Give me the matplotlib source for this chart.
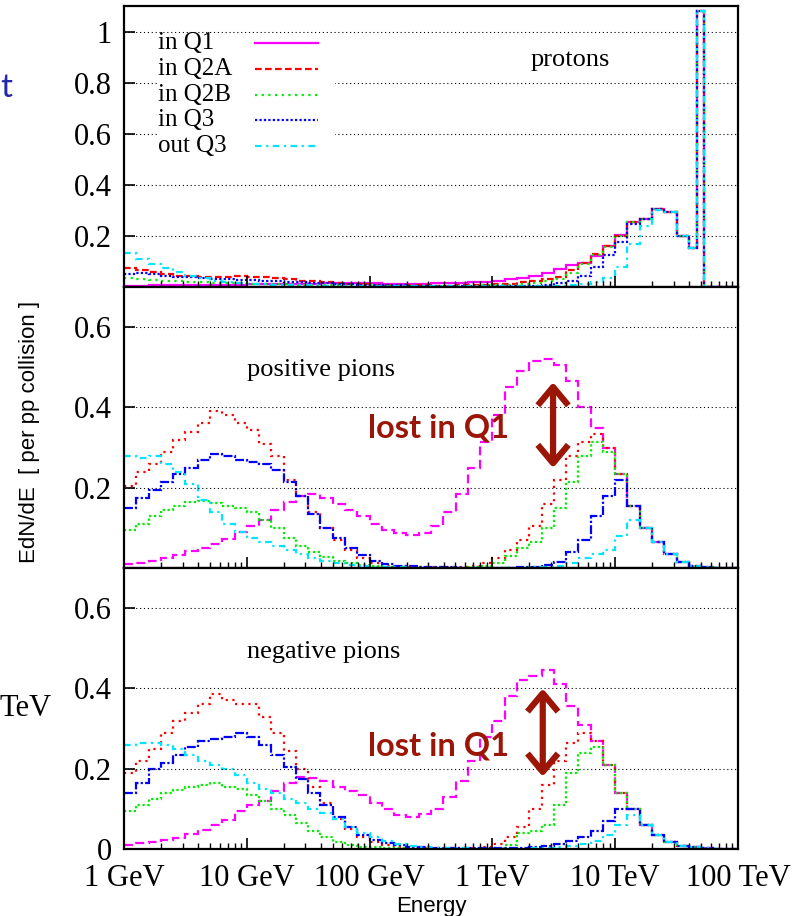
import numpy as np
import matplotlib
matplotlib.use("Agg")
import matplotlib.pyplot as plt
from matplotlib.ticker import FixedLocator, LogLocator, NullFormatter
from matplotlib.lines import Line2D

# ---- data (log10(E/GeV) bin edges, EdN/dE per pp collision) ----
pion_edges_log = np.linspace(0, 5, 51)
proton_edges_log = np.concatenate([np.linspace(0, 4.6, 47), [4.67, 4.72, 5.0]])

series_names = ["in Q1", "in Q2A", "in Q2B", "in Q3", "out Q3"]

proton_q1 = [0.005, 0.005, 0.006, 0.006, 0.007, 0.007, 0.008, 0.008, 0.009, 0.009,
             0.010, 0.010, 0.011, 0.012, 0.012, 0.013, 0.014, 0.014, 0.015, 0.015,
             0.014, 0.013, 0.013, 0.012, 0.013, 0.014, 0.015, 0.017, 0.019, 0.021,
             0.025, 0.030, 0.036, 0.045, 0.055, 0.070, 0.085, 0.095, 0.120, 0.160,
             0.205, 0.255, 0.265, 0.305, 0.295, 0.200, 0.152, 1.08, 0.0]
proton_q2a = [0.075, 0.065, 0.058, 0.050, 0.045, 0.042, 0.040, 0.040, 0.040, 0.042,
              0.040, 0.038, 0.035, 0.030, 0.025, 0.022, 0.018, 0.015, 0.012, 0.010,
              0.009, 0.008, 0.007, 0.006, 0.006, 0.005, 0.005, 0.006, 0.007, 0.008,
              0.010, 0.013, 0.018, 0.025, 0.030, 0.040, 0.065, 0.095, 0.130, 0.160,
              0.200, 0.255, 0.265, 0.305, 0.295, 0.200, 0.152, 1.08, 0.0]
proton_q2b = [0.035, 0.030, 0.028, 0.025, 0.022, 0.020, 0.018, 0.016, 0.015, 0.014,
              0.013, 0.012, 0.011, 0.010, 0.009, 0.008, 0.008, 0.007, 0.007, 0.006,
              0.006, 0.005, 0.005, 0.005, 0.004, 0.004, 0.004, 0.004, 0.005, 0.006,
              0.007, 0.009, 0.012, 0.016, 0.022, 0.030, 0.055, 0.090, 0.125, 0.155,
              0.200, 0.255, 0.265, 0.305, 0.295, 0.200, 0.152, 1.08, 0.0]
proton_q3 = [0.050, 0.055, 0.050, 0.045, 0.040, 0.038, 0.035, 0.033, 0.030, 0.028,
             0.026, 0.024, 0.022, 0.020, 0.018, 0.016, 0.014, 0.012, 0.010, 0.009,
             0.008, 0.007, 0.006, 0.005, 0.005, 0.004, 0.004, 0.004, 0.004, 0.004,
             0.004, 0.004, 0.004, 0.004, 0.008, 0.015, 0.025, 0.045, 0.080, 0.125,
             0.175, 0.245, 0.265, 0.305, 0.295, 0.200, 0.152, 1.08, 0.0]
proton_outq3 = [0.135, 0.110, 0.090, 0.075, 0.060, 0.045, 0.035, 0.025, 0.018, 0.014,
                0.012, 0.010, 0.009, 0.008, 0.007, 0.006, 0.005, 0.005, 0.004, 0.004,
                0.003, 0.003, 0.003, 0.003, 0.003, 0.003, 0.003, 0.003, 0.003, 0.003,
                0.003, 0.003, 0.003, 0.003, 0.003, 0.004, 0.008, 0.012, 0.020, 0.035,
                0.080, 0.170, 0.240, 0.300, 0.295, 0.200, 0.152, 1.08, 0.0]

pip_q1 = [0.010, 0.012, 0.018, 0.025, 0.032, 0.042, 0.050, 0.060, 0.072, 0.090,
          0.105, 0.120, 0.145, 0.165, 0.180, 0.185, 0.175, 0.160, 0.145, 0.130,
          0.110, 0.095, 0.088, 0.083, 0.088, 0.105, 0.140, 0.185, 0.250, 0.315,
          0.380, 0.450, 0.490, 0.515, 0.520, 0.505, 0.465, 0.400, 0.350, 0.300,
          0.235, 0.155, 0.100, 0.065, 0.035, 0.015, 0.006, 0.002, 0.001, 0.000]
pip_q2a = [0.205, 0.240, 0.260, 0.290, 0.320, 0.340, 0.360, 0.390, 0.380, 0.360,
           0.345, 0.310, 0.280, 0.220, 0.180, 0.140, 0.100, 0.070, 0.045, 0.025,
           0.012, 0.006, 0.003, 0.002, 0.002, 0.002, 0.002, 0.002, 0.005, 0.012,
           0.025, 0.045, 0.070, 0.105, 0.160, 0.220, 0.280, 0.315, 0.335, 0.300,
           0.235, 0.155, 0.100, 0.065, 0.035, 0.015, 0.006, 0.002, 0.001, 0.000]
pip_q2b = [0.095, 0.110, 0.130, 0.145, 0.155, 0.165, 0.168, 0.162, 0.155, 0.150,
           0.140, 0.120, 0.100, 0.075, 0.055, 0.040, 0.028, 0.018, 0.012, 0.007,
           0.004, 0.002, 0.002, 0.001, 0.001, 0.001, 0.001, 0.001, 0.002, 0.005,
           0.012, 0.030, 0.050, 0.065, 0.100, 0.150, 0.215, 0.280, 0.315, 0.290,
           0.235, 0.155, 0.100, 0.065, 0.035, 0.015, 0.006, 0.002, 0.001, 0.000]
pip_q3 = [0.150, 0.175, 0.195, 0.215, 0.235, 0.250, 0.270, 0.285, 0.280, 0.270,
          0.265, 0.260, 0.245, 0.215, 0.180, 0.135, 0.100, 0.075, 0.050, 0.032,
          0.018, 0.010, 0.006, 0.004, 0.003, 0.002, 0.002, 0.001, 0.001, 0.001,
          0.001, 0.001, 0.002, 0.003, 0.008, 0.016, 0.040, 0.070, 0.130, 0.180,
          0.220, 0.155, 0.100, 0.065, 0.035, 0.015, 0.006, 0.002, 0.001, 0.000]
pip_outq3 = [0.280, 0.275, 0.280, 0.260, 0.240, 0.210, 0.170, 0.140, 0.110, 0.090,
             0.075, 0.065, 0.055, 0.045, 0.035, 0.025, 0.018, 0.012, 0.008, 0.005,
             0.003, 0.002, 0.002, 0.001, 0.001, 0.001, 0.001, 0.001, 0.001, 0.001,
             0.001, 0.001, 0.001, 0.002, 0.003, 0.005, 0.012, 0.025, 0.035, 0.045,
             0.080, 0.120, 0.100, 0.065, 0.035, 0.015, 0.006, 0.002, 0.001, 0.000]

pim_q1 = [0.010, 0.015, 0.018, 0.022, 0.028, 0.038, 0.048, 0.060, 0.072, 0.095,
          0.110, 0.120, 0.145, 0.165, 0.180, 0.178, 0.170, 0.155, 0.145, 0.135,
          0.115, 0.100, 0.085, 0.080, 0.088, 0.100, 0.130, 0.170, 0.220, 0.280,
          0.320, 0.380, 0.420, 0.430, 0.445, 0.410, 0.355, 0.310, 0.270, 0.210,
          0.140, 0.100, 0.060, 0.035, 0.018, 0.008, 0.004, 0.002, 0.001, 0.000]
pim_q2a = [0.190, 0.220, 0.250, 0.290, 0.320, 0.340, 0.360, 0.385, 0.370, 0.360,
           0.360, 0.330, 0.290, 0.245, 0.200, 0.155, 0.115, 0.075, 0.050, 0.030,
           0.018, 0.010, 0.006, 0.004, 0.003, 0.002, 0.002, 0.002, 0.003, 0.006,
           0.012, 0.030, 0.055, 0.100, 0.160, 0.220, 0.265, 0.290, 0.270, 0.210,
           0.140, 0.100, 0.060, 0.035, 0.018, 0.008, 0.004, 0.002, 0.001, 0.000]
pim_q2b = [0.095, 0.110, 0.125, 0.140, 0.148, 0.155, 0.160, 0.165, 0.155, 0.150,
           0.135, 0.120, 0.100, 0.085, 0.065, 0.045, 0.030, 0.018, 0.010, 0.006,
           0.004, 0.002, 0.002, 0.001, 0.001, 0.001, 0.001, 0.001, 0.001, 0.002,
           0.003, 0.010, 0.040, 0.045, 0.060, 0.110, 0.190, 0.240, 0.255, 0.210,
           0.140, 0.100, 0.060, 0.035, 0.018, 0.008, 0.004, 0.002, 0.001, 0.000]
pim_q3 = [0.140, 0.165, 0.200, 0.215, 0.235, 0.255, 0.270, 0.275, 0.280, 0.290,
          0.280, 0.260, 0.235, 0.205, 0.175, 0.140, 0.110, 0.080, 0.055, 0.035,
          0.022, 0.014, 0.009, 0.006, 0.004, 0.003, 0.002, 0.002, 0.002, 0.002,
          0.002, 0.002, 0.003, 0.005, 0.008, 0.012, 0.020, 0.030, 0.045, 0.070,
          0.100, 0.100, 0.060, 0.035, 0.018, 0.008, 0.004, 0.002, 0.001, 0.000]
pim_outq3 = [0.260, 0.265, 0.265, 0.260, 0.250, 0.235, 0.220, 0.210, 0.200, 0.185,
             0.165, 0.150, 0.140, 0.125, 0.115, 0.100, 0.090, 0.075, 0.055, 0.040,
             0.030, 0.020, 0.012, 0.008, 0.005, 0.003, 0.002, 0.002, 0.001, 0.001,
             0.001, 0.001, 0.001, 0.002, 0.003, 0.005, 0.008, 0.012, 0.020, 0.035,
             0.060, 0.085, 0.060, 0.035, 0.018, 0.008, 0.004, 0.002, 0.001, 0.000]

xtick_vals = [1, 10, 100, 1e3, 1e4, 1e5]
xtick_labels = ["1 GeV", "10 GeV", "100 GeV", "1 TeV", "10 TeV", "100 TeV"]

# ---- styles ----
colors = ["#ff00ff", "#ff0000", "#00ee00", "#0000ff", "#00e5ff"]
proton_styles = ["-", (0, (3, 1.5)), (0, (1, 2)), (0, (1, 1)), (0, (3, 2, 1, 2))]
pion_styles = [(0, (4, 2)), (0, (1, 2)), (0, (1, 1.2)), (0, (4, 1, 1, 1)), (0, (3, 2, 1, 2))]
serif = ["Liberation Serif", "DejaVu Serif"]
sans = ["Liberation Sans", "DejaVu Sans"]
dark_red = "#9c1608"

fig = plt.figure(figsize=(7.94, 9.16), dpi=100)
W, H = 794, 916
x0, x1 = 124, 738


def make_axes(top, bottom):
    return fig.add_axes([x0 / W, 1 - bottom / H, (x1 - x0) / W, (bottom - top) / H])


ax_p = make_axes(6, 287)
ax_pp = make_axes(287, 568)
ax_pm = make_axes(568, 849)

panels = [
    (ax_p, proton_edges_log, [proton_q1, proton_q2a, proton_q2b, proton_q3, proton_outq3],
     proton_styles, 1.1, [0.2, 0.4, 0.6, 0.8, 1.0], ["0.2", "0.4", "0.6", "0.8", "1"]),
    (ax_pp, pion_edges_log, [pip_q1, pip_q2a, pip_q2b, pip_q3, pip_outq3],
     pion_styles, 0.7, [0.2, 0.4, 0.6], ["0.2", "0.4", "0.6"]),
    (ax_pm, pion_edges_log, [pim_q1, pim_q2a, pim_q2b, pim_q3, pim_outq3],
     pion_styles, 0.7, [0, 0.2, 0.4, 0.6], ["0", "0.2", "0.4", "0.6"]),
]

for ax, edges_log, series, styles, ymax, yt, ytl in panels:
    edges = 10 ** edges_log
    for vals, c, ls in zip(series, colors, styles):
        ax.stairs(vals, edges, baseline=None, color=c, linestyle=ls, linewidth=1.6)
    ax.set_xscale("log")
    ax.set_xlim(1, 1e5)
    ax.set_ylim(0, ymax)
    ax.set_yticks(yt)
    ax.set_yticklabels(ytl, family=serif, fontsize=22)
    ax.xaxis.set_major_locator(FixedLocator(xtick_vals))
    ax.xaxis.set_minor_locator(LogLocator(base=10, subs=np.arange(2, 10)))
    ax.xaxis.set_minor_formatter(NullFormatter())
    ax.yaxis.grid(True, color="black", linestyle=(0, (1, 2.5)), linewidth=0.8)
    ax.tick_params(which="both", direction="in", top=False, right=False)
    ax.tick_params(which="major", length=8, width=1.2, pad=9)
    ax.tick_params(axis="x", which="major", pad=11)
    ax.tick_params(which="minor", length=4, width=1.0)
    for s in ax.spines.values():
        s.set_linewidth(1.6)
    if ax is ax_pm:
        ax.set_xticklabels(xtick_labels, family=serif, fontsize=22)
    else:
        ax.set_xticklabels([])

# legend drawn in the proton panel
ax_p.add_patch(plt.Rectangle((0.054, 0.47), 0.29, 0.43, transform=ax_p.transAxes,
                             facecolor="white", edgecolor="none", zorder=2))
leg_y = [0.868, 0.776, 0.683, 0.594, 0.502]
for name, c, ls, yy in zip(series_names, colors, proton_styles, leg_y):
    ax_p.text(0.055, yy, name, transform=ax_p.transAxes, family=serif, fontsize=18,
              va="center", ha="left", zorder=3)
    ax_p.add_line(Line2D([0.213, 0.316], [yy, yy], transform=ax_p.transAxes,
                         color=c, linestyle=ls, linewidth=1.6, zorder=3))

ax_p.text(10 ** 3.31, 0.887, "protons", family=serif, fontsize=19, va="center", ha="left")
ax_pp.text(10, 0.493, "positive pions", family=serif, fontsize=19, va="center", ha="left")
ax_pm.text(10, 0.49, "negative pions", family=serif, fontsize=19, va="center", ha="left")

# "lost in Q1" annotations
for ax, tx, ty, ax_x, y_top, y_bot in [(ax_pp, 97, 0.348, 10 ** 3.494, 0.463, 0.249),
                                       (ax_pm, 97, 0.256, 10 ** 3.41, 0.40, 0.18)]:
    ax.text(tx, ty, "lost in Q1", family=["Lato", "DejaVu Sans"], fontweight="bold",
            fontsize=23.5, color=dark_red, va="center", ha="left")
    ax.annotate("", xy=(ax_x, y_top), xytext=(ax_x, y_bot),
                arrowprops=dict(arrowstyle="<->,head_length=0.6,head_width=0.5",
                                color=dark_red, lw=4.5, mutation_scale=22,
                                shrinkA=0, shrinkB=0, capstyle="butt"))

fig.text(30 / W, 1 - 432 / H, "EdN/dE  [ per pp collision ]", rotation=90,
         family=sans, fontsize=16, va="center", ha="center")
fig.text(431 / W, 1 - 912 / H, "Energy", family=sans, fontsize=16,
         va="baseline", ha="center")

# fragments of the surrounding slide
fig.text(0.0, 1 - 97 / H, "t", family=["Lato", "DejaVu Sans"], fontsize=24,
         color="#2626a8", va="baseline", ha="left")
fig.text(0.0, 1 - 708 / H, "TeV", family=serif, fontsize=22, va="center", ha="left")

fig.savefig("out.png", dpi=100)
